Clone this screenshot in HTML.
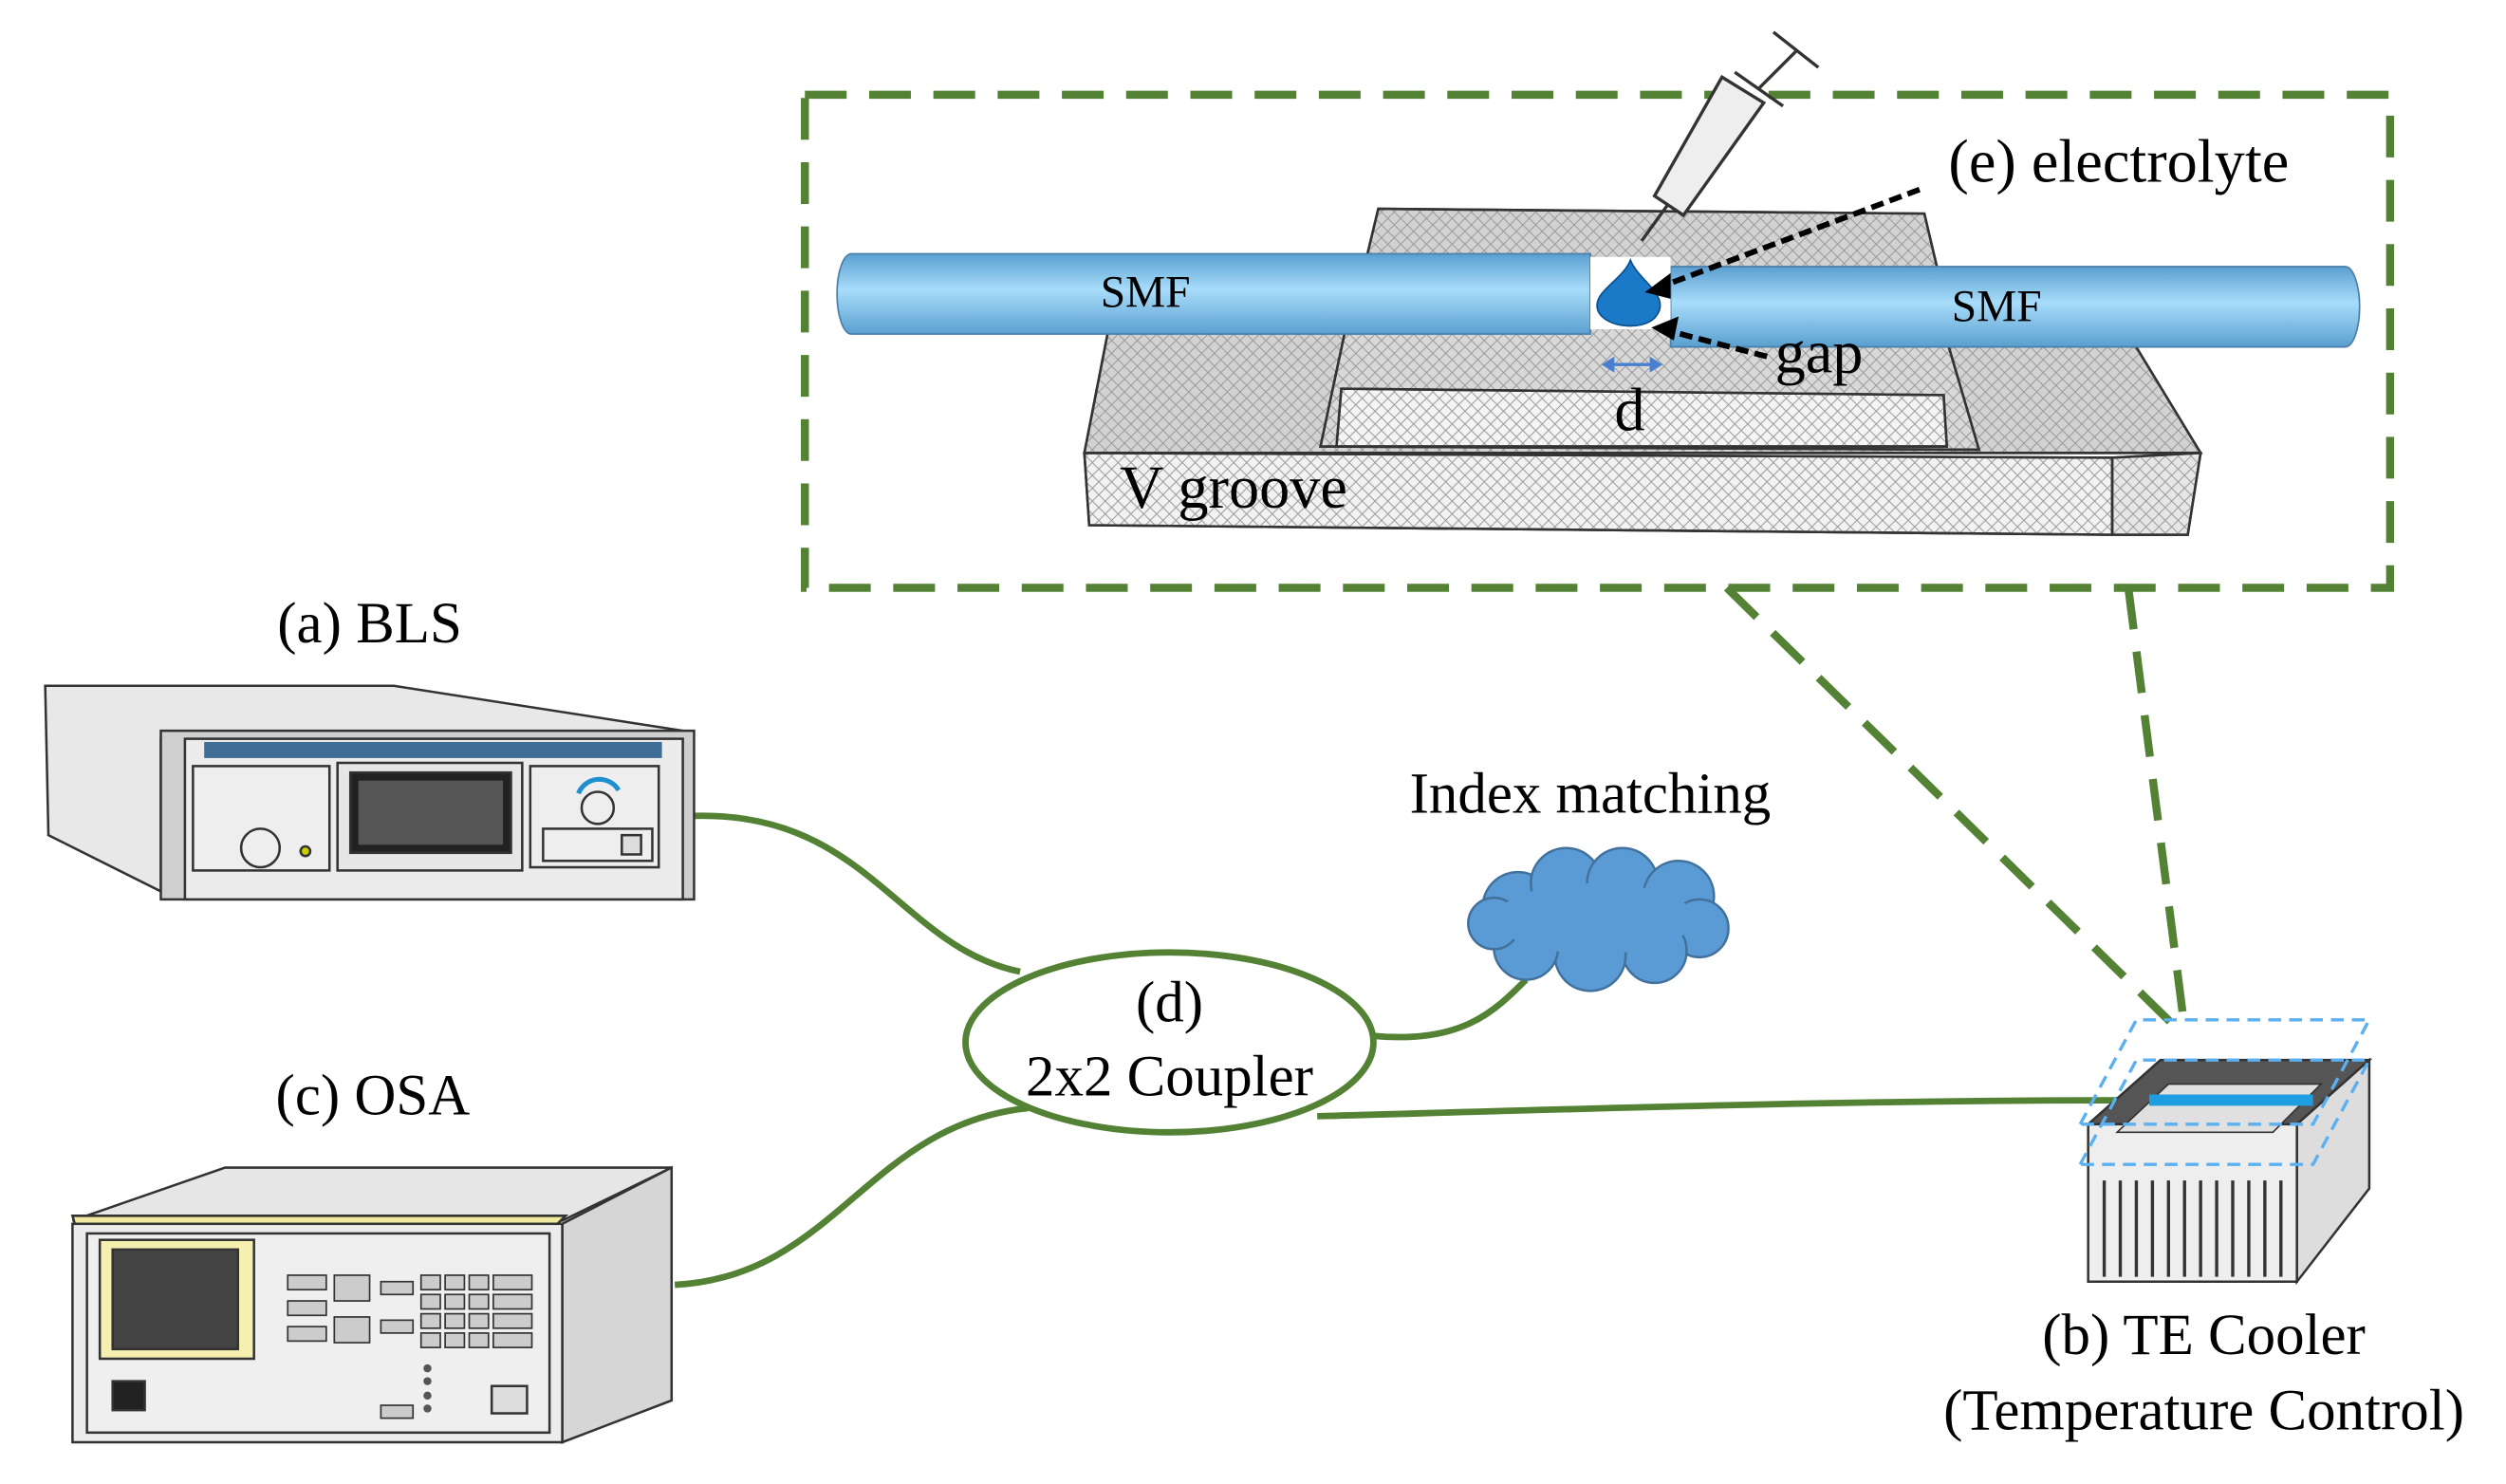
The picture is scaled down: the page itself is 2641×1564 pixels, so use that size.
<!DOCTYPE html>
<html><head><style>html,body{margin:0;padding:0;background:#fff}svg{display:block}</style></head>
<body>
<svg width="2641" height="1564" viewBox="0 0 1560 924" xmlns="http://www.w3.org/2000/svg" font-family="Liberation Serif, serif">
<defs>
<pattern id="hatch" width="8" height="8" patternUnits="userSpaceOnUse">
<path d="M0 0L8 8M8 0L0 8" stroke="#999" stroke-width="0.6"/></pattern>
<linearGradient id="fib" x1="0" y1="0" x2="0" y2="1">
<stop offset="0" stop-color="#5a9fd0"/><stop offset="0.45" stop-color="#a8dcfa"/><stop offset="1" stop-color="#5a9fd0"/></linearGradient>
</defs>
<g stroke="#548235" stroke-width="5" fill="none" stroke-dasharray="26,14">
<rect x="501" y="59" width="987" height="307"/>
<line x1="1075" y1="366" x2="1360" y2="645"/>
<line x1="1325" y1="366" x2="1360" y2="640"/>
</g>
<g stroke="#333" stroke-width="1.5">
<polygon points="858,130 1198,133 1215,205 840,205" fill="#d2d2d2"/>
<polygon points="858,130 1198,133 1215,205 840,205" fill="url(#hatch)"/>
<polygon points="690,205 1325,208 1370,282 675,282" fill="#d2d2d2"/>
<polygon points="690,205 1325,208 1370,282 675,282" fill="url(#hatch)"/>
<polygon points="675,282 1315,285 1315,333 678,327" fill="#f2f2f2"/>
<polygon points="675,282 1315,285 1315,333 678,327" fill="url(#hatch)"/>
<polygon points="1315,285 1370,282 1362,333 1315,333" fill="#e6e6e6"/>
<polygon points="1315,285 1370,282 1362,333 1315,333" fill="url(#hatch)"/>
<polygon points="838,203 1210,205 1232,280 822,278" fill="#d8d8d8"/>
<polygon points="838,203 1210,205 1232,280 822,278" fill="url(#hatch)"/>
<polygon points="835,242 1210,246 1212,278 832,278" fill="#f4f4f4"/>
<polygon points="835,242 1210,246 1212,278 832,278" fill="url(#hatch)"/>
</g>
<path d="M530 158 L990 158 L990 208 L530 208 A9 25 0 0 1 530 158Z" fill="url(#fib)" stroke="#4a7fa8" stroke-width="1"/>
<path d="M1040 166 L1460 166 A9 25 0 0 1 1460 216 L1040 216Z" fill="url(#fib)" stroke="#4a7fa8" stroke-width="1"/>
<rect x="990" y="160" width="50" height="45" fill="#fff"/>
<path d="M1015 162 C1020 175 1042 185 1030 198 C1022 206 1000 204 995 194 C990 182 1010 175 1015 162Z" fill="#1a7ac8" stroke="#0a4f90"/>
<text x="685" y="191" font-size="28">SMF</text>
<text x="1215" y="200" font-size="28">SMF</text>
<g stroke="#333" stroke-width="2" fill="#eee">
<line x1="1022" y1="150" x2="1040" y2="125"/>
<polygon points="1030,122 1048,134 1098,64 1072,48"/>
<line x1="1080" y1="45" x2="1110" y2="66"/>
<line x1="1095" y1="55" x2="1118" y2="32"/>
<line x1="1104" y1="20" x2="1132" y2="42"/>
</g>
<g stroke="#000" stroke-width="3.5" stroke-dasharray="8,4" fill="none">
<line x1="1195" y1="118" x2="1030" y2="180"/>
<line x1="1100" y1="222" x2="1035" y2="205"/>
</g>
<polygon points="1024,182 1040,170 1040,186" fill="#000"/>
<polygon points="1028,204 1045,197 1042,212" fill="#000"/>
<line x1="1000" y1="227" x2="1032" y2="227" stroke="#4a7fd0" stroke-width="2"/>
<polygon points="997,227 1005,222 1005,232" fill="#4a7fd0"/><polygon points="1035,227 1027,222 1027,232" fill="#4a7fd0"/>
<text x="1213" y="113" font-size="38">(e) electrolyte</text>
<text x="1105" y="232" font-size="38">gap</text>
<text x="1005" y="268" font-size="38">d</text>
<text x="697" y="316" font-size="38">V groove</text>
<g stroke="#548235" stroke-width="4" fill="none">
<path d="M432 508 C540 505 560 590 635 605"/>
<path d="M420 800 C520 795 540 700 640 690"/>
<path d="M855 645 C910 650 930 630 950 610"/>
<path d="M820 695 C1000 690 1150 685 1340 685"/>
<ellipse cx="728" cy="649" rx="127" ry="56"/>
</g>
<text x="728" y="636" font-size="36" text-anchor="middle">(d)</text>
<text x="728" y="682" font-size="36" text-anchor="middle">2x2 Coupler</text>
<text x="990" y="506" font-size="36" text-anchor="middle">Index matching</text>
<g fill="#5b9bd5" stroke="#41719c" stroke-width="1.5">
<circle cx="945" cy="565" r="22"/><circle cx="975" cy="550" r="22"/><circle cx="1010" cy="550" r="22"/><circle cx="1045" cy="558" r="22"/><circle cx="1058" cy="578" r="18"/><circle cx="1030" cy="592" r="20"/><circle cx="990" cy="595" r="22"/><circle cx="950" cy="590" r="20"/><circle cx="930" cy="575" r="16"/>
</g>
<ellipse cx="993" cy="572" rx="62" ry="22" fill="#5b9bd5"/>
<text x="230" y="400" font-size="36" text-anchor="middle">(a) BLS</text>
<g stroke="#333" stroke-width="1.5">
<polygon points="28,427 245,427 425,455 100,460 100,555 30,520" fill="#e8e8e8"/>
<rect x="100" y="455" width="332" height="105" fill="#cfcfcf"/>
<rect x="115" y="460" width="310" height="100" fill="#ececec"/>
<rect x="127" y="462" width="285" height="10" fill="#3e6e96" stroke="none"/>
<rect x="120" y="477" width="85" height="65" fill="#eee"/>
<rect x="210" y="475" width="115" height="67" fill="#e6e6e6"/>
<rect x="218" y="481" width="100" height="50" fill="#222"/>
<rect x="223" y="486" width="90" height="40" fill="#555" stroke="none"/>
<rect x="330" y="477" width="80" height="63" fill="#eee"/>
<rect x="338" y="516" width="68" height="20" fill="#eee"/>
<rect x="387" y="520" width="12" height="12" fill="#ddd"/>
<circle cx="162" cy="528" r="12" fill="#eee"/>
<circle cx="190" cy="530" r="3" fill="#cc0"/>
<circle cx="372" cy="503" r="10" fill="#eee"/>
</g>
<path d="M360 494 A14 14 0 0 1 385 492" stroke="#1e90d0" stroke-width="3" fill="none"/>
<text x="232" y="694" font-size="36" text-anchor="middle">(c) OSA</text>
<g stroke="#333" stroke-width="1.5">
<polygon points="45,760 140,727 418,727 350,760" fill="#e6e6e6"/>
<polygon points="45,757 352,757 345,764 47,764" fill="#efe9a0"/>
<rect x="45" y="762" width="305" height="136" fill="#ececec"/>
<rect x="54" y="768" width="288" height="124" fill="#efefef"/>
<polygon points="350,762 418,727 418,872 350,898" fill="#d6d6d6"/>
<rect x="62" y="772" width="96" height="74" fill="#f5f0b0"/>
<rect x="70" y="778" width="78" height="62" fill="#444"/>
<rect x="70" y="860" width="20" height="18" fill="#222"/>
<rect x="306" y="863" width="22" height="17" fill="#ddd"/>
</g>
<g fill="#ccc" stroke="#333" stroke-width="1">
<rect x="179" y="794" width="24" height="9"/><rect x="179" y="810" width="24" height="9"/><rect x="179" y="826" width="24" height="9"/>
<rect x="208" y="794" width="22" height="16"/><rect x="208" y="820" width="22" height="16"/>
<rect x="237" y="798" width="20" height="8"/><rect x="237" y="822" width="20" height="8"/>
<rect x="262" y="794" width="12" height="9"/><rect x="277" y="794" width="12" height="9"/><rect x="292" y="794" width="12" height="9"/><rect x="307" y="794" width="24" height="9"/>
<rect x="262" y="806" width="12" height="9"/><rect x="277" y="806" width="12" height="9"/><rect x="292" y="806" width="12" height="9"/><rect x="307" y="806" width="24" height="9"/>
<rect x="262" y="818" width="12" height="9"/><rect x="277" y="818" width="12" height="9"/><rect x="292" y="818" width="12" height="9"/><rect x="307" y="818" width="24" height="9"/>
<rect x="262" y="830" width="12" height="9"/><rect x="277" y="830" width="12" height="9"/><rect x="292" y="830" width="12" height="9"/><rect x="307" y="830" width="24" height="9"/>
<rect x="237" y="875" width="20" height="8"/>
</g>
<g fill="#555"><circle cx="266" cy="852" r="2.5"/><circle cx="266" cy="860" r="2.5"/><circle cx="266" cy="869" r="2.5"/><circle cx="266" cy="877" r="2.5"/></g>
<g stroke="#333" stroke-width="1.5">
<polygon points="1300,700 1345,660 1475,660 1430,700" fill="#555"/>
<polygon points="1300,700 1430,700 1430,798 1300,798" fill="#eee"/>
<polygon points="1430,700 1475,660 1475,740 1430,798" fill="#ddd"/>
</g>
<g stroke="#333" stroke-width="2">
<line x1="1310" y1="735" x2="1310" y2="795"/><line x1="1320" y1="735" x2="1320" y2="795"/><line x1="1330" y1="735" x2="1330" y2="795"/><line x1="1340" y1="735" x2="1340" y2="795"/><line x1="1350" y1="735" x2="1350" y2="795"/><line x1="1360" y1="735" x2="1360" y2="795"/><line x1="1370" y1="735" x2="1370" y2="795"/><line x1="1380" y1="735" x2="1380" y2="795"/><line x1="1390" y1="735" x2="1390" y2="795"/><line x1="1400" y1="735" x2="1400" y2="795"/><line x1="1410" y1="735" x2="1410" y2="795"/><line x1="1420" y1="735" x2="1420" y2="795"/>
</g>
<polygon points="1318,705 1350,675 1445,675 1415,705" fill="#e0e0e0" stroke="#333"/>
<line x1="1338" y1="685" x2="1440" y2="685" stroke="#1e9ee0" stroke-width="7"/>
<g stroke="#5ab0f0" stroke-width="2" stroke-dasharray="8,5" fill="none">
<polygon points="1295,700 1330,635 1475,635 1440,700"/>
<polygon points="1295,725 1330,660 1475,660 1440,725"/>
</g>
<text x="1372" y="843" font-size="36" text-anchor="middle">(b) TE Cooler</text>
<text x="1372" y="890" font-size="36" text-anchor="middle">(Temperature Control)</text>
</svg>
</body></html>
